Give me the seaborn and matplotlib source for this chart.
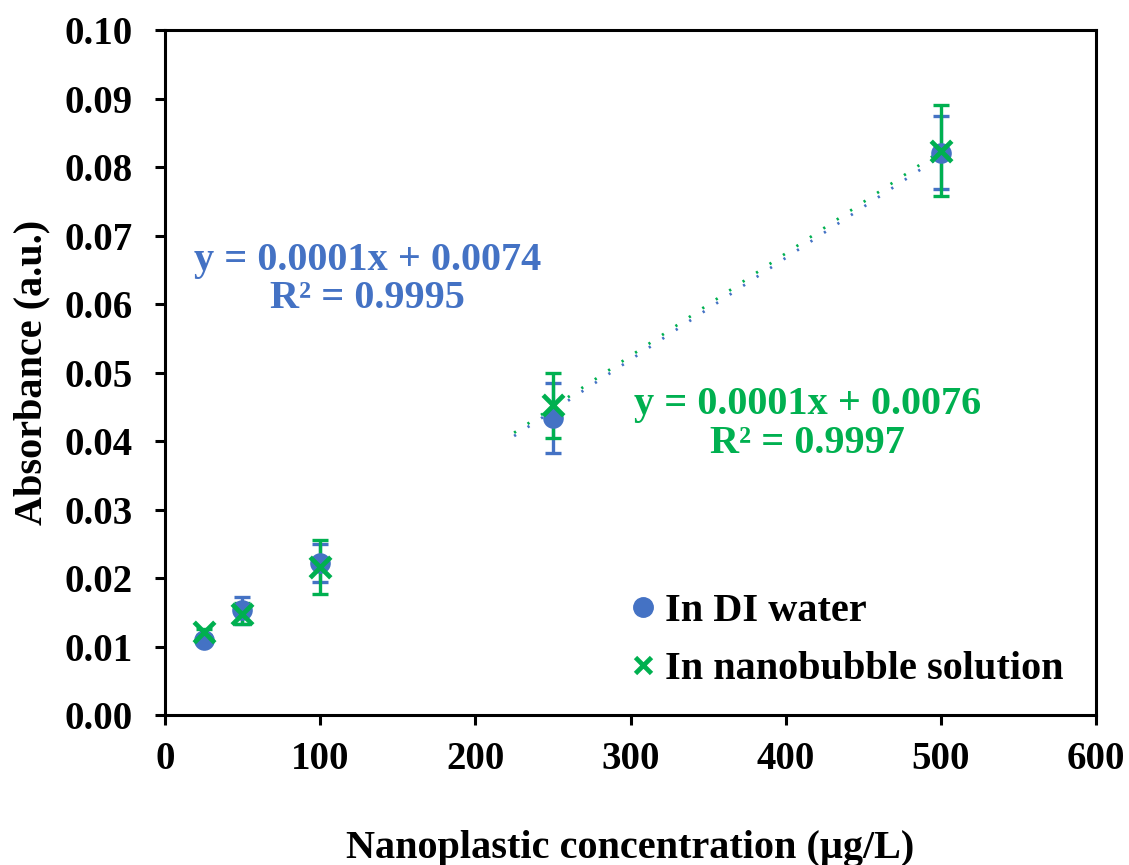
import numpy as np
import pandas as pd
import matplotlib
matplotlib.use("Agg")
import matplotlib.pyplot as plt
import seaborn as sns
from matplotlib.lines import Line2D

conc = [25, 50, 100, 250, 500]
di_water = [0.0110, 0.0153, 0.0222, 0.0433, 0.0821]
di_err = [0.0004, 0.0020, 0.0028, 0.0051, 0.0053]
nanobubble = [0.0121, 0.0148, 0.0216, 0.0452, 0.0824]
nb_err = [0.0004, 0.0015, 0.0039, 0.0047, 0.0067]
labels = ["In DI water", "In nanobubble solution"]
eq_di = "y = 0.0001x + 0.0074\nR² = 0.9995"
eq_nb = "y = 0.0001x + 0.0076\nR² = 0.9997"

blue = "#4472C4"
green = "#00B050"

sns.set_theme(style="white")
plt.rcParams['font.family'] = ['Liberation Serif', 'DejaVu Serif']
plt.rcParams['font.weight'] = 'bold'

fig = plt.figure(figsize=(11.29, 8.65), dpi=100)
ax = fig.add_axes([0.146, 0.1734, 0.825, 0.7919])

df_di = pd.DataFrame({"x": conc, "y": di_water})
df_nb = pd.DataFrame({"x": conc, "y": nanobubble})

# trendlines (linear fit on all points)
xs = np.linspace(225, 500, 60)
for ys, col in [(di_water, blue), (nanobubble, green)]:
    p = np.polyfit(conc, ys, 1)
    ax.plot(xs, np.polyval(p, xs), color=col, lw=2, ls=(0, (0.8, 5)), zorder=1)

ax.errorbar(conc, di_water, yerr=di_err, fmt='none', ecolor=blue, elinewidth=2.4,
            capsize=6, capthick=2.4, zorder=2)
ax.errorbar(conc, nanobubble, yerr=nb_err, fmt='none', ecolor=green, elinewidth=2.4,
            capsize=6, capthick=2.4, zorder=3)

sns.scatterplot(data=df_di, x="x", y="y", marker="o", color=blue, s=220,
                linewidth=0, ax=ax, zorder=4)
sns.scatterplot(data=df_nb, x="x", y="y", marker="x", color=green, s=220,
                linewidth=3.4, ax=ax, zorder=5)

ax.set_xlim(0, 600)
ax.set_ylim(0, 0.10)
ax.set_xticks(np.arange(0, 601, 100))
yt = np.arange(0, 0.1001, 0.01)
ax.set_yticks(yt)
ax.set_yticklabels([f"{v:.2f}" for v in yt])
ax.tick_params(axis='both', which='major', direction='out', length=7, width=2.2,
               labelsize=28, color='black', labelcolor='black', left=True, bottom=True)
ax.tick_params(axis='y', pad=16)
ax.tick_params(axis='x', pad=12)
for lab in ax.get_xticklabels() + ax.get_yticklabels():
    lab.set_fontweight('bold')
for sp in ax.spines.values():
    sp.set_color('black')
    sp.set_linewidth(2.2)

ax.set_xlabel("Nanoplastic concentration (µg/L)", fontsize=29, fontweight='bold',
              color='black', labelpad=37)
ax.set_ylabel("Absorbance (a.u.)", fontsize=29, fontweight='bold', color='black', labelpad=10)

ax.text(0.218, 0.636, eq_di, transform=ax.transAxes, ha='center', va='center',
        color=blue, fontsize=29, fontweight='bold', linespacing=1.05)
ax.text(0.690, 0.425, eq_nb, transform=ax.transAxes, ha='center', va='center',
        color=green, fontsize=29, fontweight='bold', linespacing=1.05)

handles = [Line2D([], [], marker='o', ls='none', color=blue, markersize=14),
           Line2D([], [], marker='x', ls='none', color=green, markersize=12, markeredgewidth=3.4)]
leg = ax.legend(handles, labels, loc='lower right', bbox_to_anchor=(0.995, -0.002),
                frameon=False, fontsize=29, handletextpad=0.0, labelspacing=0.52,
                handlelength=1.1, borderpad=0.2)
for t in leg.get_texts():
    t.set_fontweight('bold')
    t.set_color('black')

fig.savefig("out.png", dpi=100)
